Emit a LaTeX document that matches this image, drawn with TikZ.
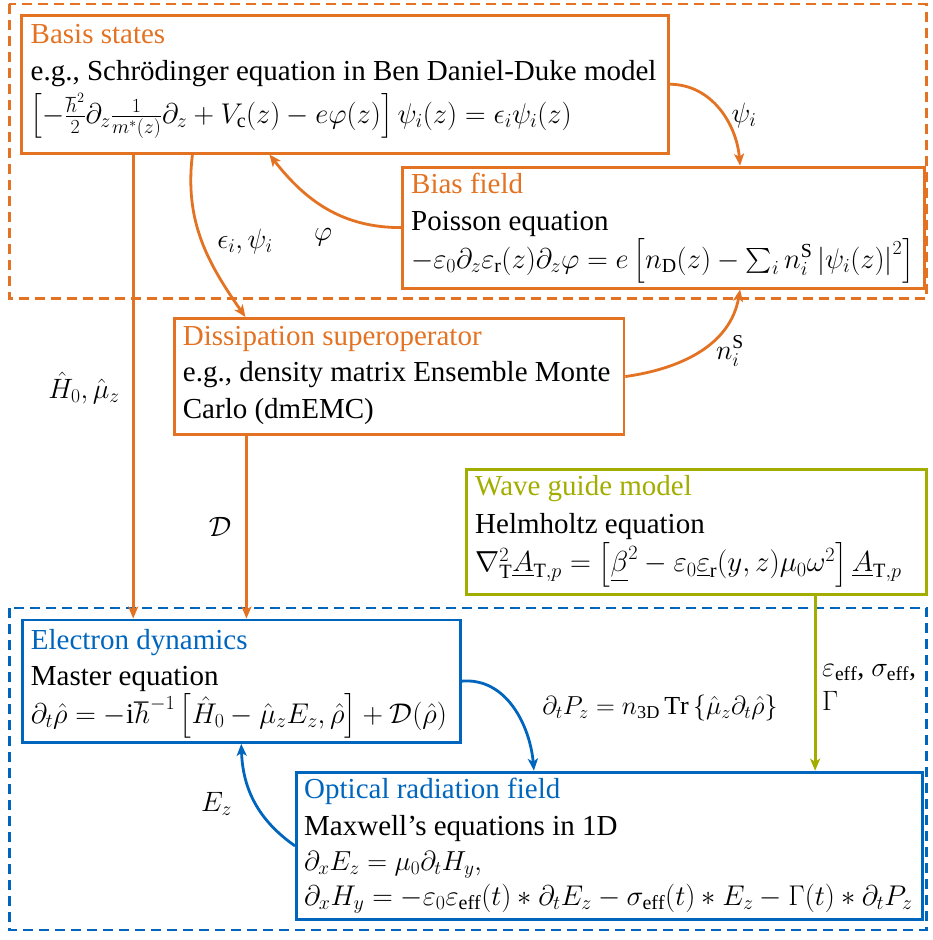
\RequirePackage{fix-cm}
\documentclass[tikz,border=0pt]{standalone}
\usepackage{amsmath}
\usepackage{fontspec}
\setmainfont{Liberation Serif}
\usetikzlibrary{arrows.meta,calc}
\definecolor{tumorange}{HTML}{E37222}
\definecolor{tumblue}{HTML}{0065BD}
\definecolor{tumgreen}{HTML}{A2AD00}
\newcommand\fsz[1]{\fontsize{#1}{#1}\selectfont}
\begin{document}
\begin{tikzpicture}[x=1pt,y=-1pt,
  font=\fsz{29},
  box/.style={draw, line width=2.8pt, anchor=north west, inner sep=0pt, rectangle},
  obox/.style={box, draw=tumorange},
  bbox/.style={box, draw=tumblue},
  gbox/.style={box, draw=tumgreen},
  txt/.style={anchor=base west, inner sep=0pt},
  lbl/.style={inner sep=0pt, font=\fsz{28}},
  grp/.style={line width=2.8pt, dash pattern=on 10pt off 6pt},
  conn/.style={line width=2.8pt, -{Stealth[length=12pt,width=10pt,inset=3pt]}},
]
\useasboundingbox (0,0) rectangle (932,940);

% group frames
\draw[grp, tumorange] (9.3,4) rectangle (926.5,298.3);
\draw[grp, tumblue] (9.3,608) rectangle (926.5,930);

% boxes
\node[obox, minimum width=646.7pt, minimum height=137.7pt] (basis) at (20,14) {};
\node[obox, minimum width=522.3pt, minimum height=121pt] (bias) at (401,165.7) {};
\node[obox, minimum width=449.8pt, minimum height=116.3pt] (diss) at (172.7,317) {};
\node[gbox, minimum width=460pt, minimum height=125pt] (wave) at (465,468.3) {};
\node[bbox, minimum width=438.3pt, minimum height=122.5pt] (elec) at (20.7,618.5) {};
\node[bbox, minimum width=626pt, minimum height=147.6pt] (opt) at (295,770.7) {};

% texts: basis
\node[txt, text=tumorange] (basisT) at (30.5,43.3) {Basis states};
\node[txt] (basisA) at (30.5,80) {e.g., Schrödinger equation in Ben Daniel-Duke model};
\node[txt, font=\fsz{28.5}] (basisB) at (30.5,123.3) {$\left[-\frac{\hbar^2}{2}\partial_z\frac{1}{m^*(z)}\partial_z+V_\mathrm{c}(z)-e\varphi(z)\right]\psi_i(z)=\epsilon_i\psi_i(z)$};
% bias
\node[txt, text=tumorange] (biasT) at (411,193.3) {Bias field};
\node[txt] (biasA) at (411,230) {Poisson equation};
\node[txt, font=\fsz{28.5}] (biasB) at (411,268) {$-\varepsilon_0\partial_z\varepsilon_\mathrm{r}(z)\partial_z\varphi=e\,\bigl[n_\mathrm{D}(z)-\sum_i n_i^\mathrm{S}\left|\psi_i(z)\right|^2\bigr]$};
% dissipation
\node[txt, text=tumorange] (dissT) at (182.7,345) {Dissipation superoperator};
\node[txt] (dissA) at (182.7,381.7) {e.g., density matrix Ensemble Monte};
\node[txt] (dissB) at (182.7,418.3) {Carlo (dmEMC)};
% wave guide
\node[txt, text=tumgreen] (waveT) at (475,495) {Wave guide model};
\node[txt] (waveA) at (475,533.3) {Helmholtz equation};
\node[txt, font=\fsz{29}] (waveB) at (475,571.7) {$\nabla_\mathrm{T}^2\underline{A}_{\mathrm{T},p}=\bigl[\underline{\beta}^2-\varepsilon_0\underline{\varepsilon}_\mathrm{r}(y,z)\mu_0\omega^2\bigr]\,\underline{A}_{\mathrm{T},p}$};
% electron dynamics
\node[txt, text=tumblue] (elecT) at (30.7,649.3) {Electron dynamics};
\node[txt] (elecA) at (30.7,685) {Master equation};
\node[txt, font=\fsz{28.5}] (elecB) at (30.7,723.3) {$\partial_t\hat\rho=-\mathrm{i}\hbar^{-1}\,\bigl[\hat H_0-\hat\mu_z E_z,\hat\rho\bigr]+\mathcal{D}(\hat\rho)$};
% optical
\node[txt, text=tumblue] (optT) at (304,798.3) {Optical radiation field};
\node[txt] (optA) at (304,835) {Maxwell’s equations in 1D};
\node[txt, font=\fsz{27.5}] (optB) at (304,870) {$\partial_x E_z=\mu_0\partial_t H_y,$};
\node[txt, font=\fsz{28.5}] (optC) at (304,905) {$\partial_x H_y=-\varepsilon_0\varepsilon_\mathrm{eff}(t)*\partial_t E_z-\sigma_\mathrm{eff}(t)*E_z-\Gamma(t)*\partial_t P_z$};

% connector end points
\coordinate (psiE) at ($(bias.north west)!0.6458!(bias.north east)$);
\coordinate (phiE) at ($(basis.south west)!0.384!(basis.south east)$);
\coordinate (epsS) at ($(basis.south west)!0.2655!(basis.south east)$);
\coordinate (epsE) at ($(diss.north west)!0.1607!(diss.north east)$);
\coordinate (nsE) at ($(bias.south west)!0.6458!(bias.south east)$);
\coordinate (hS) at ($(basis.south west)!0.1743!(basis.south east)$);
\coordinate (dS) at ($(diss.south west)!0.163!(diss.south east)$);
\coordinate (pE) at ($(opt.north west)!0.38!(opt.north east)$);
\coordinate (wS) at ($(wave.south west)!0.7565!(wave.south east)$);

% connectors
\draw[conn, tumorange] (basis.east) to[out=0, in=95] (psiE);
\draw[conn, tumorange] (bias.west) to[out=180, in=-52] (phiE);
\draw[conn, tumorange] (epsS) to[out=-97, in=125] (epsE);
\draw[conn, tumorange] (diss.east) to[out=8, in=-100] (nsE);
\draw[conn, tumorange] (hS) -- (hS |- elec.north);
\draw[conn, tumorange] (dS) -- (dS |- elec.north);
\draw[conn, tumblue] (elec.east) to[out=5, in=95] (pE);
\draw[conn, tumblue] (opt.west) to[out=145, in=-88] (elec.south);
\draw[conn, tumgreen] (wS) -- (wS |- opt.north);

% labels
\node[lbl] (lpsi) at (744,115) {$\psi_i$};
\node[lbl] (lphi) at (323,237) {$\varphi$};
\node[lbl] (leps) at (245,241) {$\epsilon_i,\psi_i$};
\node[lbl] (lns) at (730,351) {$n_i^\mathrm{S}$};
\node[lbl] (lh) at (84,388) {$\hat H_0,\hat\mu_z$};
\node[lbl] (ld) at (220,527) {$\mathcal{D}$};
\node[lbl, font=\fsz{26}] (lp) at (660,708) {$\partial_t P_z=n_\mathrm{3D}\,\mathrm{Tr}\left\{\hat\mu_z\partial_t\hat\rho\right\}$};
\node[lbl] (lez) at (216.5,804) {$E_z$};
\node[lbl, anchor=base west] (lw1) at (822,676) {$\varepsilon_\mathrm{eff}$, $\sigma_\mathrm{eff}$,};
\node[lbl, anchor=base west] (lw2) at (822,710) {$\Gamma$};
\end{tikzpicture}
\end{document}
